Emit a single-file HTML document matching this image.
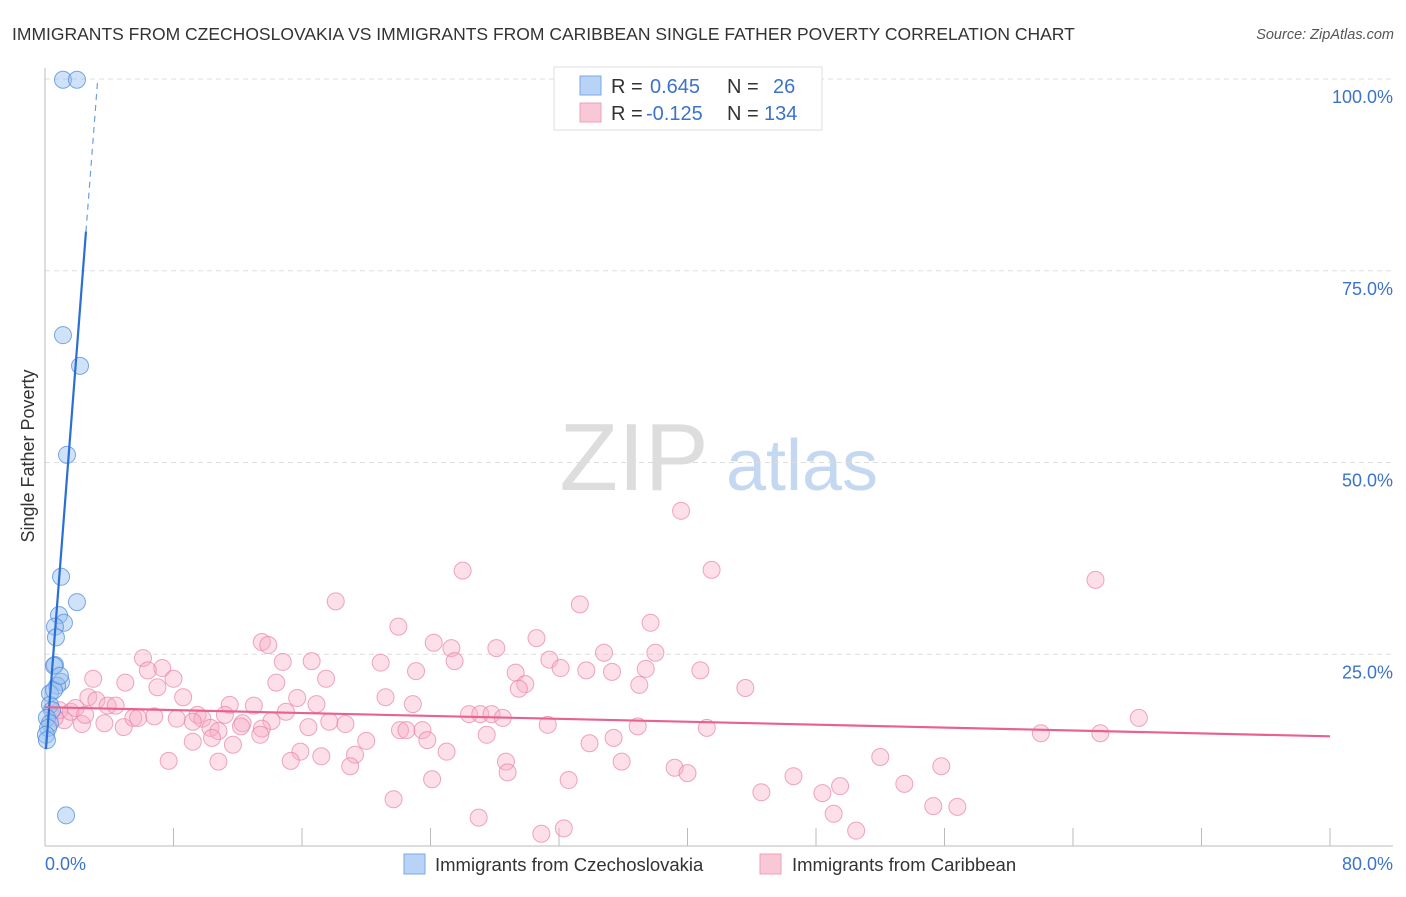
<!DOCTYPE html>
<html><head><meta charset="utf-8"><style>
body{margin:0;background:#fff;font-family:"Liberation Sans",sans-serif}
svg text{font-family:"Liberation Sans",sans-serif}
</style></head><body>
<svg id="c" width="1406" height="892" xmlns="http://www.w3.org/2000/svg">
<text x="12" y="40" font-size="17.5" fill="#333">IMMIGRANTS FROM CZECHOSLOVAKIA VS IMMIGRANTS FROM CARIBBEAN SINGLE FATHER POVERTY CORRELATION CHART</text>
<text x="1394" y="39" font-size="14.5" fill="#555" font-style="italic" text-anchor="end">Source: ZipAtlas.com</text>
<text x="634" y="490" font-size="96" fill="#ddd" font-family="Liberation Serif" text-anchor="middle">ZIP</text>
<text x="802" y="490" font-size="72" fill="#c5d8f2" text-anchor="middle">atlas</text>
<text transform="translate(34,456) rotate(-90)" font-size="18" fill="#333" text-anchor="middle">Single Father Poverty</text>
<g id="grid"></g><g id="pts"></g><g id="lines"></g>
<g>
<rect x="554" y="67" width="268" height="63" fill="#fff" stroke="#ddd"/>
<rect x="580" y="76" width="21" height="19" fill="#b8d3f5" stroke="#7aaae6"/>
<rect x="580" y="103" width="21" height="19" fill="#f9c8d6" stroke="#eea0b8"/>
<text x="611" y="93" font-size="20" fill="#333">R =</text><text x="650" y="93" font-size="20" fill="#3b73cc">0.645</text>
<text x="727" y="93" font-size="20" fill="#333">N =</text><text x="773" y="93" font-size="20" fill="#3b73cc">26</text>
<text x="611" y="120" font-size="20" fill="#333">R =</text><text x="646" y="120" font-size="20" fill="#3b73cc">-0.125</text>
<text x="727" y="120" font-size="20" fill="#333">N =</text><text x="764" y="120" font-size="20" fill="#3b73cc">134</text>
</g>
<g>
<rect x="404" y="854" width="21" height="20" fill="#b8d3f5" stroke="#7aaae6"/>
<text x="435" y="871" font-size="18.5" fill="#333">Immigrants from Czechoslovakia</text>
<rect x="760" y="854" width="21" height="20" fill="#f9c8d6" stroke="#eea0b8"/>
<text x="792" y="871" font-size="18.5" fill="#333">Immigrants from Caribbean</text>
</g>
<text x="45" y="870" font-size="18" fill="#3b73cc">0.0%</text>
<text x="1393" y="870" font-size="18" fill="#3b73cc" text-anchor="end">80.0%</text>
</svg>
<script>
const yTicks=[100,75,50,25];
const yTickLabels=["100.0%","75.0%","50.0%","25.0%"];
const xTicks=[0,8,16,24,32,40,48,56,64,72,80];
const czechX=[1.12,1.99,1.12,2.18,1.37,1.0,1.99,0.87,1.18,0.62,0.68,0.62,0.56,1.0,0.75,0.31,0.31,0.44,0.12,0.31,0.19,0.06,0.12,1.31,0.56,0.93];
const czechY=[99.9,99.9,66.6,62.6,51.0,35.1,31.8,30.1,29.1,28.6,27.2,23.6,23.5,21.4,20.9,19.9,18.4,17.7,16.7,16.0,15.4,14.5,13.8,4.0,20.3,22.2];
const caribX=[39.6,41.5,26.0,65.4,18.1,33.3,37.7,22.0,30.6,24.2,25.3,13.5,13.9,28.1,34.8,38.0,6.1,14.8,16.6,25.5,31.4,20.9,7.3,23.1,33.7,35.3,32.1,37.4,40.8,29.3,6.4,3.0,5.0,8.0,17.5,14.4,29.9,29.5,37.0,43.6,7.0,8.6,21.2,15.7,2.7,3.2,3.9,4.4,11.5,13.0,16.9,22.9,15.0,9.5,11.2,26.4,27.1,27.8,28.5,6.8,8.2,9.8,9.2,14.1,12.3,3.7,2.3,4.9,5.5,5.8,17.7,18.7,12.2,16.4,10.3,10.8,13.5,22.1,22.5,23.5,31.3,36.9,41.2,68.1,62.0,65.7,27.5,10.4,13.4,9.2,11.7,23.8,20.0,35.4,33.9,15.9,19.3,25.0,17.2,7.7,10.8,15.3,19.0,28.7,35.9,39.2,28.8,40.0,52.0,55.8,24.1,32.6,46.6,49.5,48.4,53.5,44.6,21.7,55.3,56.8,49.1,27.0,50.5,30.9,32.3,1.2,0.9,1.6,1.9,0.6,2.5];
const caribY=[43.7,36.0,35.9,34.7,31.9,31.5,29.1,28.6,27.1,26.5,25.8,26.6,26.2,25.8,25.2,25.2,24.5,24.0,24.1,24.1,24.3,23.9,23.2,22.8,22.9,22.7,23.2,23.1,22.9,22.6,22.9,21.8,21.3,21.8,21.8,21.3,21.1,20.5,21.0,20.6,20.7,19.4,19.4,19.3,19.4,19.0,18.3,18.3,18.4,18.3,18.5,18.5,17.5,17.1,17.1,17.2,17.2,17.2,16.7,16.9,16.6,16.6,16.2,16.3,16.0,16.0,15.9,15.5,16.7,16.7,16.2,15.9,15.6,15.5,15.4,15.0,15.3,15.1,15.1,15.1,15.8,15.6,15.4,16.7,14.7,14.7,14.5,14.1,14.5,13.6,13.2,13.8,13.7,14.1,13.4,12.3,11.9,12.3,11.7,11.1,11.0,11.1,10.4,11.0,11.0,10.2,9.6,9.5,11.6,10.4,8.7,8.6,9.1,7.8,6.9,8.1,7.0,6.1,5.2,5.1,4.2,3.7,2.0,1.6,2.3,16.4,17.7,17.5,18.0,16.7,17.1];
const czechFit=[11.0,27.1];   // intercept, slope
const caribFit=[18.1,-0.0475];
const NS="http://www.w3.org/2000/svg";
const X=v=>45+v/80*1285, Y=v=>846-v/100*767;
function mk(t,a,p){const e=document.createElementNS(NS,t);for(const k in a)e.setAttribute(k,a[k]);p.appendChild(e);return e;}
const grid=document.getElementById('grid');
yTicks.forEach((t,i)=>{
 const l=mk('line',{x1:45,x2:1393,y1:Y(t),y2:Y(t),stroke:'#ddd','stroke-dasharray':'5,4'},grid);
 
 
 const tx=mk('text',{x:1393,y:Y(t)+24,'font-size':18,fill:'#3b73cc','text-anchor':'end'},grid);
 tx.textContent=yTickLabels[i];
 
 
});
const ax=mk('line',{x1:45,x2:45,y1:68,y2:846,stroke:'#bbb'},grid);


const bx=mk('line',{x1:45,x2:1393,y1:846,y2:846,stroke:'#bbb'},grid);


xTicks.forEach(t=>{
 const l=mk('line',{x1:X(t),x2:X(t),y1:828,y2:846,stroke:'#bbb'},grid);
 
 
});
const pts=document.getElementById('pts');
caribX.forEach((x,i)=>{
 const c=mk('circle',{cx:X(x),cy:Y(caribY[i]),r:8.5,fill:'rgba(246,170,196,0.38)',stroke:'rgba(232,130,165,0.7)'},pts);
 
 
});
czechX.forEach((x,i)=>{
 const c=mk('circle',{cx:X(x),cy:Y(czechY[i]),r:8.5,fill:'rgba(150,190,240,0.45)',stroke:'rgba(80,140,220,0.75)'},pts);
 
 
});
const lines=document.getElementById('lines');
const f=(fit,x)=>fit[0]+fit[1]*x;
const xEnd=2.55, xTop=(100-czechFit[0])/czechFit[1];
const bl=mk('line',{x1:X(0.06),y1:Y(f(czechFit,0.06)),x2:X(xEnd),y2:Y(f(czechFit,xEnd)),stroke:'#2a6fd6','stroke-width':2.2},lines);


const bd=mk('line',{x1:X(xEnd),y1:Y(f(czechFit,xEnd)),x2:X(xTop),y2:Y(100),stroke:'#6a9fe0','stroke-width':1.2,'stroke-dasharray':'6,5'},lines);


const pl=mk('line',{x1:X(0),y1:Y(f(caribFit,0)),x2:X(80),y2:Y(f(caribFit,80)),stroke:'#e8618f','stroke-width':2.2},lines);


</script>
</body></html>
